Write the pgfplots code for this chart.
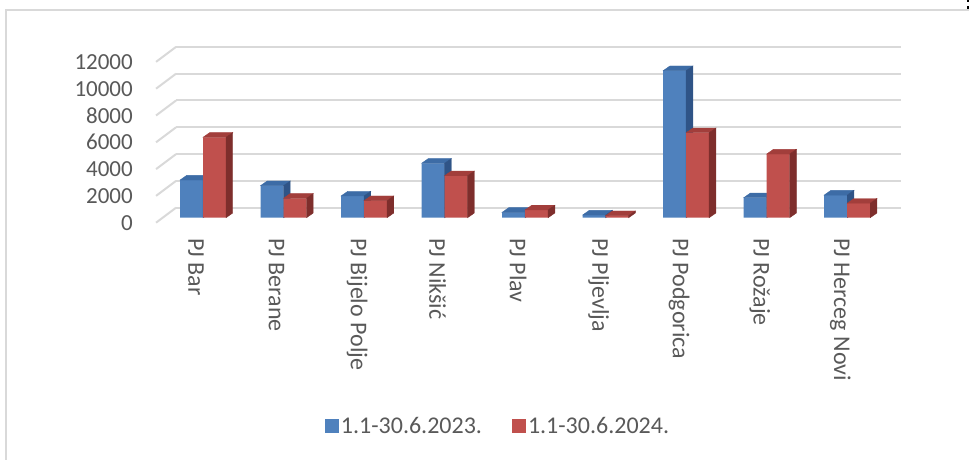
\documentclass[border=0pt]{standalone}
\usepackage{fontspec}
\setmainfont{Carlito}
\usepackage{pgfplots}
\usepackage{pgfplotstable}
\pgfplotsset{compat=1.18}

\definecolor{blueF}{HTML}{4F81BD}
\definecolor{blueT}{HTML}{3D6CA6}
\definecolor{blueS}{HTML}{2F5487}
\definecolor{redF}{HTML}{C0504D}
\definecolor{redT}{HTML}{A23E3B}
\definecolor{redS}{HTML}{7E2E2C}
\definecolor{gridc}{HTML}{D9D9D9}
\definecolor{txt}{HTML}{595959}
\newcommand\chartfont{\fontsize{23}{27}\selectfont}
\newcommand\catfont{\fontsize{24}{28}\selectfont}

% counts per unit, Jan-Jun
\pgfplotstableread{
x  a     b
0  2810  6000
1  2390  1450
2  1620  1270
3  4060  3130
4  400   580
5  200   150
6  10970 6340
7  1490  4750
8  1690  1080
}\counts

% top and side faces of the 3d columns, drawn at each bar top
% #1 = bar shift in pt (number), #2 = top colour, #3 = side colour
\pgfplotsset{
  cube faces/.style n args={3}{
    forget plot, only marks, scatter, mark=*, mark size=0pt,
    mark options={draw=none, fill=none},
    point meta=y,
    scatter/@pre marker code/.code={%
      \pgfmathsetmacro\hh{\pgfplotspointmetatransformed*0.1608}%
      \pgfmathsetmacro\hb{4.7-\hh}%
      \pgfmathsetmacro\xl{#1-11.5}%
      \pgfmathsetmacro\xr{#1+11.5}%
      \pgfmathsetmacro\xrr{#1+18.2}%
      \pgfmathsetmacro\xll{#1-4.8}%
      \fill[#2] (\xl pt,0pt) -- (\xr pt,0pt) -- (\xrr pt,4.7pt) -- (\xll pt,4.7pt) -- cycle;
      \fill[#3] (\xr pt,0pt) -- (\xrr pt,4.7pt) -- (\xrr pt,\hb pt) -- (\xr pt,-\hh pt) -- cycle;
    },
    scatter/@post marker code/.code={},
  },
  square legend/.style={
    legend image code/.code={\fill[##1] (0pt,-7pt) rectangle (14pt,7pt);}
  },
  bar plane/.style={
    at={(162.75pt,242.3pt)}, anchor=south west,
    scale only axis, width=724.75pt, height=160.8pt,
    xmin=-0.5, xmax=8.5, ymin=0, ymax=12000,
    point meta min=0, point meta max=12000,
    axis line style={draw=none}, major tick length=0pt,
    clip=false, scaled y ticks=false,
  },
}

\begin{document}
\begin{tikzpicture}
\useasboundingbox (0,0) rectangle (969pt,460pt);
\draw[gridc, line width=2pt] (6pt,0pt) -- (6pt,450pt) -- (969pt,450pt);
\fill[black] (967pt,457.5pt) rectangle (968.5pt,460pt);
\fill[black] (967pt,451pt) rectangle (968.5pt,454pt);

% back wall with gridlines
\begin{axis}[
  at={(176.05pt,252.3pt)}, anchor=south west,
  scale only axis, width=724.75pt, height=160.8pt,
  xmin=-0.5, xmax=8.5, ymin=0, ymax=12000,
  axis line style={draw=none}, major tick length=0pt,
  xtick=\empty, ytick={0,2000,...,12000}, yticklabels={},
  scaled y ticks=false,
  ymajorgrids, major grid style={gridc, line width=2pt},
  clip=false,
]
\pgfplotsinvokeforeach{0,2000,...,12000}{
  \draw[gridc, line width=2pt] (axis cs:-0.5,#1) -- ++(-20pt,-15pt);
}
\end{axis}

% 2023 columns, with the tick labels
\begin{axis}[
  bar plane,
  xtick={0,...,8},
  xticklabels={PJ Bar, PJ Berane, PJ Bijelo Polje, PJ Nikšić, PJ Plav, PJ Pljevlja, PJ Podgorica, PJ Rožaje, PJ Herceg Novi},
  ytick={0,2000,...,12000},
  /pgf/number format/1000 sep={},
  /pgf/number format/assume math mode=true,
  yticklabel style={font=\chartfont, text=txt, anchor=east, inner sep=0pt, xshift=-29.75pt, yshift=-5pt},
  xticklabel style={font=\catfont, text=txt, inner sep=0pt, xshift=-7pt, yshift=-21pt, rotate=-90, anchor=west},
]
\addplot[ybar, bar width=23pt, bar shift=-11.5pt, fill=blueF, draw=none] table[x=x, y=a] {\counts};
\addplot[cube faces={-11.5}{blueT}{blueS}] table[x=x, y=a] {\counts};
\end{axis}

% 2024 columns, drawn over the 2023 ones, with the legend
\begin{axis}[
  bar plane,
  xtick=\empty, ytick=\empty,
  square legend,
  legend style={at={(0.4626,-1.295)}, anchor=center, draw=none, fill=none,
    legend columns=2, font=\catfont, text=txt,
    /tikz/every even column/.append style={column sep=28pt}},
]
\addlegendimage{fill=blueF, draw=none}
\addlegendentry{1.1-30.6.2023.}
\addplot[ybar, bar width=23pt, bar shift=11.5pt, fill=redF, draw=none] table[x=x, y=b] {\counts};
\addlegendentry{1.1-30.6.2024.}
\addplot[cube faces={11.5}{redT}{redS}] table[x=x, y=b] {\counts};
\end{axis}
\end{tikzpicture}
\end{document}
